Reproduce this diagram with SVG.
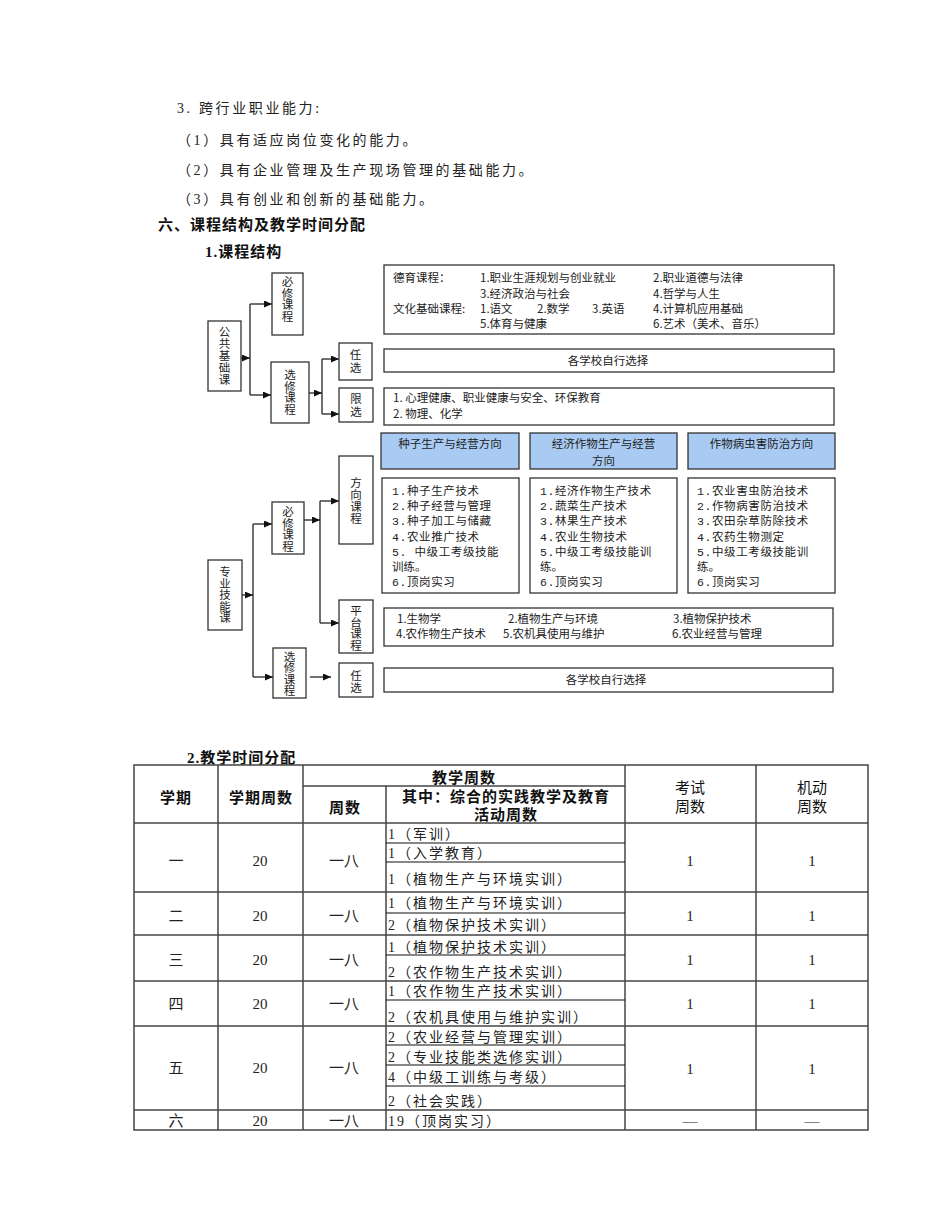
<svg xmlns="http://www.w3.org/2000/svg" width="950" height="1230" viewBox="0 0 950 1230">
<defs>
<style>
.bg{fill:#fff}
.p{font-family:"Liberation Serif","Noto Sans CJK SC",serif;font-size:14px;fill:#222;letter-spacing:2.6px}
.h{font-family:"Liberation Serif","Noto Sans CJK SC",serif;font-size:15px;font-weight:bold;fill:#111;letter-spacing:1px}
.box{fill:#fff;stroke:#333;stroke-width:1.3}
.blue{fill:#a9cbf3;stroke:#333;stroke-width:1.3}
.d{font-family:"Noto Sans CJK SC",sans-serif;font-size:11.5px;fill:#222}
.dc{font-family:"Noto Sans CJK SC",sans-serif;font-size:11.5px;fill:#222;text-anchor:middle}
.v{font-family:"Noto Sans CJK SC",sans-serif;font-size:11.5px;fill:#222;text-anchor:middle;writing-mode:vertical-rl}
.m{font-family:"Liberation Mono","Noto Sans CJK SC",monospace;font-size:11.5px;fill:#222;letter-spacing:0.6px}
.con line{stroke:#222;stroke-width:1.3}
.tb{stroke:#444;stroke-width:1.5;fill:none}
.ts{stroke:#111;stroke-width:1.1}
.th{font-family:"Liberation Serif","Noto Sans CJK SC",serif;font-size:15px;font-weight:bold;fill:#111;text-anchor:middle;letter-spacing:1px}
.thn{font-family:"Liberation Serif","Noto Sans CJK SC",serif;font-size:15px;fill:#111;text-anchor:middle}
.tc{font-family:"Liberation Serif","Noto Sans CJK SC",serif;font-size:15px;fill:#222;text-anchor:middle}
.tl{font-family:"Liberation Serif","Noto Sans CJK SC",serif;font-size:14px;fill:#222;letter-spacing:2px}
</style>
<marker id="ar" markerUnits="userSpaceOnUse" markerWidth="8" markerHeight="7" refX="8" refY="3.5" orient="auto">
<path d="M0,0 L8,3.5 L0,7 z" fill="#111"/>
</marker>
</defs>
<rect class="bg" x="0" y="0" width="950" height="1230"/>

<g id="intro">
<text class="p" x="177" y="113">3.<tspan x="199">跨行业职业能力:</tspan></text>
<text class="p" x="177" y="145">（1）具有适应岗位变化的能力。</text>
<text class="p" x="177" y="175">（2）具有企业管理及生产现场管理的基础能力。</text>
<text class="p" x="177" y="204">（3）具有创业和创新的基础能力。</text>
<text class="h" x="158" y="230">六、课程结构及教学时间分配</text>
<text class="h" x="205" y="257">1.课程结构</text>
</g>

<g class="con" id="connectors">
<line x1="241" y1="358" x2="250" y2="358" marker-end="url(#ar)"/>
<line x1="250" y1="304" x2="250" y2="395"/>
<line x1="250" y1="304" x2="272" y2="304" marker-end="url(#ar)"/>
<line x1="250" y1="395" x2="271" y2="395" marker-end="url(#ar)"/>
<line x1="309" y1="393" x2="322" y2="393" marker-end="url(#ar)"/>
<line x1="322" y1="359" x2="322" y2="414"/>
<line x1="322" y1="359" x2="339" y2="359" marker-end="url(#ar)"/>
<line x1="322" y1="414" x2="339" y2="414" marker-end="url(#ar)"/>
<line x1="242" y1="595" x2="253" y2="595" marker-end="url(#ar)"/>
<line x1="253" y1="524" x2="253" y2="677"/>
<line x1="253" y1="524" x2="272" y2="524" marker-end="url(#ar)"/>
<line x1="253" y1="677" x2="273" y2="677" marker-end="url(#ar)"/>
<line x1="304" y1="520" x2="320" y2="520" marker-end="url(#ar)"/>
<line x1="320" y1="501" x2="320" y2="623"/>
<line x1="320" y1="501" x2="339" y2="501" marker-end="url(#ar)"/>
<line x1="320" y1="623" x2="339" y2="623" marker-end="url(#ar)"/>
<line x1="310" y1="677" x2="331" y2="677" marker-end="url(#ar)"/>
</g>

<g id="n-gonggong">
<rect class="box" x="208" y="321" width="33" height="70"/>
<text class="v" x="224.5" y="356" letter-spacing="0.5">公共基础课</text>
</g>
<g id="n-bixiu1">
<rect class="box" x="272" y="273" width="31" height="62"/>
<text class="v" x="287.5" y="299" letter-spacing="0">必修课程</text>
</g>
<g id="n-xuanxiu1">
<rect class="box" x="271" y="362" width="38" height="61"/>
<text class="v" x="290" y="392" letter-spacing="0">选修课程</text>
</g>
<g id="n-renxuan1">
<rect class="box" x="339" y="343" width="33" height="37"/>
<text class="v" x="355.5" y="362" letter-spacing="2">任选</text>
</g>
<g id="n-xianxuan">
<rect class="box" x="339" y="388" width="34" height="34"/>
<text class="v" x="356" y="406" letter-spacing="2">限选</text>
</g>
<g id="n-public-req">
<rect class="box" x="384" y="265" width="450" height="69"/>
<text class="d" x="393" y="281.5">德育课程：</text>
<text class="d" x="480" y="281.5">1.职业生涯规划与创业就业</text>
<text class="d" x="653" y="281.5">2.职业道德与法律</text>
<text class="d" x="480" y="297.5">3.经济政治与社会</text>
<text class="d" x="653" y="297.5">4.哲学与人生</text>
<text class="d" x="393" y="313">文化基础课程:</text>
<text class="d" x="480" y="313">1.语文</text>
<text class="d" x="537" y="313">2.数学</text>
<text class="d" x="592" y="313">3.英语</text>
<text class="d" x="653" y="313">4.计算机应用基础</text>
<text class="d" x="480" y="328">5.体育与健康</text>
<text class="d" x="653" y="328">6.艺术（美术、音乐）</text>
</g>
<g id="n-public-any">
<rect class="box" x="384" y="349" width="450" height="23"/>
<text class="dc" x="608" y="364.5">各学校自行选择</text>
</g>
<g id="n-public-lim">
<rect class="box" x="384" y="388" width="450" height="37"/>
<text class="d" x="393" y="401.5">1.  心理健康、职业健康与安全、环保教育</text>
<text class="d" x="393" y="417.5">2.  物理、化学</text>
</g>

<g id="n-zhuanye">
<rect class="box" x="208" y="560" width="34" height="70"/>
<text class="v" x="225" y="595" letter-spacing="0">专业技能课</text>
</g>
<g id="n-bixiu2">
<rect class="box" x="272" y="502" width="32" height="52"/>
<text class="v" x="288" y="529" letter-spacing="0">必修课程</text>
</g>
<g id="n-xuanxiu2">
<rect class="box" x="273" y="648" width="33" height="50"/>
<text class="v" x="289.5" y="673.5" letter-spacing="0">选修课程</text>
</g>
<g id="n-fangxiang">
<rect class="box" x="339" y="456" width="34" height="88"/>
<text class="v" x="356" y="501" letter-spacing="0.5">方向课程</text>
</g>
<g id="n-pingtai">
<rect class="box" x="339" y="600" width="34" height="53"/>
<text class="v" x="356" y="628" letter-spacing="0">平台课程</text>
</g>
<g id="n-renxuan2">
<rect class="box" x="339" y="663" width="34" height="34"/>
<text class="v" x="356" y="682" letter-spacing="1">任选</text>
</g>

<g id="n-dir1">
<rect class="blue" x="381" y="433" width="138" height="36"/>
<text class="dc" x="450" y="447.5">种子生产与经营方向</text>
<rect class="box" x="382" y="478" width="137" height="115"/>
<text class="m" x="392" y="495">1.种子生产技术</text>
<text class="m" x="392" y="510">2.种子经营与管理</text>
<text class="m" x="392" y="524.5">3.种子加工与储藏</text>
<text class="m" x="392" y="541">4.农业推广技术</text>
<text class="m" x="392" y="556" letter-spacing="2.6">5. 中级工考级技能</text>
<text class="d" x="392" y="571">训练。</text>
<text class="m" x="392" y="586">6.顶岗实习</text>
</g>
<g id="n-dir2">
<rect class="blue" x="530" y="433" width="147" height="36"/>
<text class="dc" x="603.5" y="447.5">经济作物生产与经营</text>
<text class="dc" x="603.5" y="464.5">方向</text>
<rect class="box" x="530" y="478" width="147" height="115"/>
<text class="m" x="540" y="495">1.经济作物生产技术</text>
<text class="m" x="540" y="510">2.蔬菜生产技术</text>
<text class="m" x="540" y="524.5">3.林果生产技术</text>
<text class="m" x="540" y="541">4.农业生物技术</text>
<text class="m" x="540" y="556" letter-spacing="1.6">5.中级工考级技能训</text>
<text class="d" x="540" y="571">练。</text>
<text class="m" x="540" y="586">6.顶岗实习</text>
</g>
<g id="n-dir3">
<rect class="blue" x="688" y="433" width="147" height="36"/>
<text class="dc" x="761.5" y="447.5">作物病虫害防治方向</text>
<rect class="box" x="688" y="478" width="147" height="115"/>
<text class="m" x="697" y="495">1.农业害虫防治技术</text>
<text class="m" x="697" y="510">2.作物病害防治技术</text>
<text class="m" x="697" y="524.5">3.农田杂草防除技术</text>
<text class="m" x="697" y="541">4.农药生物测定</text>
<text class="m" x="697" y="556" letter-spacing="1.6">5.中级工考级技能训</text>
<text class="d" x="697" y="571">练。</text>
<text class="m" x="697" y="586">6.顶岗实习</text>
</g>
<g id="n-platform">
<rect class="box" x="384" y="608" width="449" height="38"/>
<text class="d" x="397" y="623">1.生物学</text>
<text class="d" x="508" y="623">2.植物生产与环境</text>
<text class="d" x="673" y="623">3.植物保护技术</text>
<text class="d" x="396" y="638">4.农作物生产技术</text>
<text class="d" x="503" y="638">5.农机具使用与维护</text>
<text class="d" x="672" y="638">6.农业经营与管理</text>
</g>
<g id="n-spec-any">
<rect class="box" x="384" y="668" width="449" height="24"/>
<text class="dc" x="606" y="684">各学校自行选择</text>
</g>

<g id="table">
<text class="h" x="187" y="763">2.教学时间分配</text>
<rect class="tb" x="134" y="765" width="734" height="365"/>
<g stroke="#444" stroke-width="1.5">
<line x1="218" y1="765" x2="218" y2="1130"/>
<line x1="303" y1="765" x2="303" y2="1130"/>
<line x1="386" y1="786" x2="386" y2="1130"/>
<line x1="625" y1="765" x2="625" y2="1130"/>
<line x1="756" y1="765" x2="756" y2="1130"/>
<line x1="303" y1="786" x2="625" y2="786"/>
<line x1="134" y1="823" x2="868" y2="823"/>
<line x1="134" y1="892" x2="868" y2="892"/>
<line x1="134" y1="935" x2="868" y2="935"/>
<line x1="134" y1="981" x2="868" y2="981"/>
<line x1="134" y1="1026" x2="868" y2="1026"/>
<line x1="134" y1="1110" x2="868" y2="1110"/>
</g>
<g class="ts">
<line x1="386" y1="843" x2="625" y2="843"/>
<line x1="386" y1="862" x2="625" y2="862"/>
<line x1="386" y1="913" x2="625" y2="913"/>
<line x1="386" y1="955" x2="625" y2="955"/>
<line x1="386" y1="1000" x2="625" y2="1000"/>
<line x1="386" y1="1045" x2="625" y2="1045"/>
<line x1="386" y1="1065" x2="625" y2="1065"/>
<line x1="386" y1="1086" x2="625" y2="1086"/>
</g>
<text class="th" x="464" y="783">教学周数</text>
<text class="th" x="176" y="803">学期</text>
<text class="th" x="261" y="803">学期周数</text>
<text class="th" x="345" y="813">周数</text>
<text class="th" x="506" y="802">其中：综合的实践教学及教育</text>
<text class="th" x="506" y="820">活动周数</text>
<text class="thn" x="690" y="793">考试</text>
<text class="thn" x="690" y="812">周数</text>
<text class="thn" x="812" y="793">机动</text>
<text class="thn" x="812" y="812">周数</text>

<text class="tc" x="176" y="866">一</text>
<text class="tc" x="260" y="866">20</text>
<text class="tc" x="344" y="866">一八</text>
<text class="tc" x="690" y="866">1</text>
<text class="tc" x="812" y="866">1</text>
<text class="tl" x="388" y="839">1（军训）</text>
<text class="tl" x="388" y="858">1（入学教育）</text>
<text class="tl" x="388" y="884">1（植物生产与环境实训）</text>

<text class="tc" x="176" y="921">二</text>
<text class="tc" x="260" y="921">20</text>
<text class="tc" x="344" y="921">一八</text>
<text class="tc" x="690" y="921">1</text>
<text class="tc" x="812" y="921">1</text>
<text class="tl" x="388" y="908">1（植物生产与环境实训）</text>
<text class="tl" x="388" y="930">2（植物保护技术实训）</text>

<text class="tc" x="176" y="965">三</text>
<text class="tc" x="260" y="965">20</text>
<text class="tc" x="344" y="965">一八</text>
<text class="tc" x="690" y="965">1</text>
<text class="tc" x="812" y="965">1</text>
<text class="tl" x="388" y="952">1（植物保护技术实训）</text>
<text class="tl" x="388" y="977">2（农作物生产技术实训）</text>

<text class="tc" x="176" y="1009">四</text>
<text class="tc" x="260" y="1009">20</text>
<text class="tc" x="344" y="1009">一八</text>
<text class="tc" x="690" y="1009">1</text>
<text class="tc" x="812" y="1009">1</text>
<text class="tl" x="388" y="996">1（农作物生产技术实训）</text>
<text class="tl" x="388" y="1022">2（农机具使用与维护实训）</text>

<text class="tc" x="176" y="1073">五</text>
<text class="tc" x="260" y="1073">20</text>
<text class="tc" x="344" y="1073">一八</text>
<text class="tc" x="690" y="1074">1</text>
<text class="tc" x="812" y="1074">1</text>
<text class="tl" x="388" y="1042">2（农业经营与管理实训）</text>
<text class="tl" x="388" y="1062">2（专业技能类选修实训）</text>
<text class="tl" x="388" y="1082">4（中级工训练与考级）</text>
<text class="tl" x="388" y="1106">2（社会实践）</text>

<text class="tc" x="176" y="1126">六</text>
<text class="tc" x="260" y="1126">20</text>
<text class="tc" x="344" y="1126">一八</text>
<text class="tc" x="690" y="1126">—</text>
<text class="tc" x="812" y="1126">—</text>
<text class="tl" x="388" y="1126">19（顶岗实习）</text>
</g>
</svg>
